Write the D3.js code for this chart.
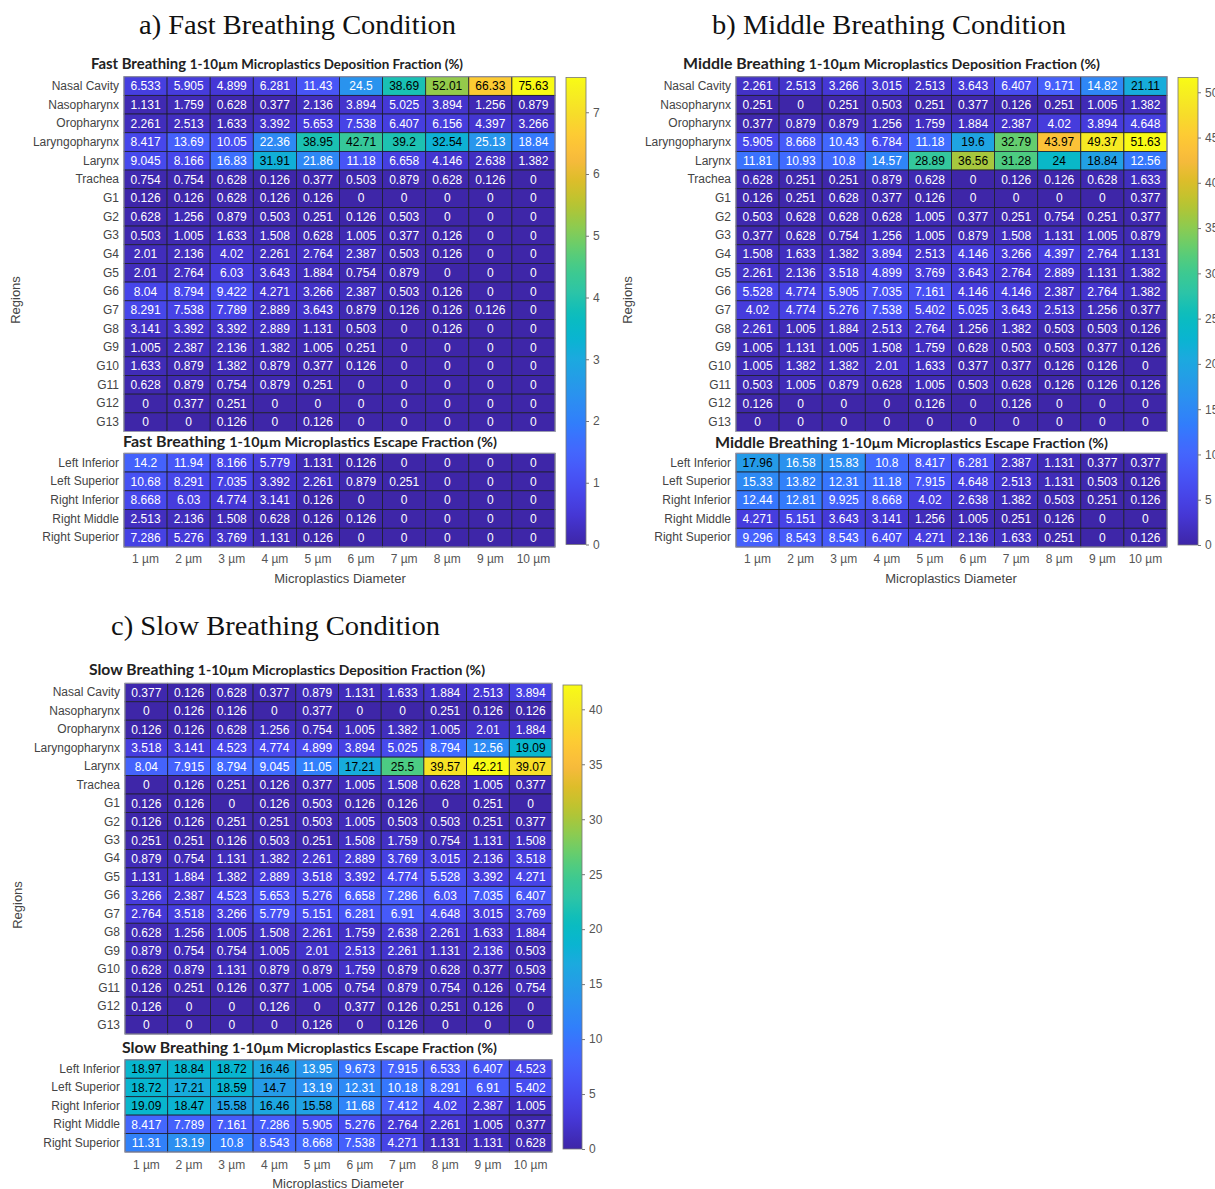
<!DOCTYPE html>
<html>
<head>
<meta charset="utf-8">
<script src="https://cdn.jsdelivr.net/npm/d3@7"></script>
<style>
  body { margin: 0; background: #fff; }
  svg { display: block; }
</style>
</head>
<body>
<svg width="1215" height="1189"></svg>
<script>
var depRegions = ['Nasal Cavity', 'Nasopharynx', 'Oropharynx', 'Laryngopharynx', 'Larynx', 'Trachea',
  'G1', 'G2', 'G3', 'G4', 'G5', 'G6', 'G7', 'G8', 'G9', 'G10', 'G11', 'G12', 'G13']
var escRegions = ['Left Inferior', 'Left Superior', 'Right Inferior', 'Right Middle', 'Right Superior']
var diameters = ['1 µm', '2 µm', '3 µm', '4 µm', '5 µm', '6 µm', '7 µm', '8 µm', '9 µm', '10 µm']

var fastDep = [
  [6.533, 5.905, 4.899, 6.281, 11.43, 24.5, 38.69, 52.01, 66.33, 75.63],
  [1.131, 1.759, 0.628, 0.377, 2.136, 3.894, 5.025, 3.894, 1.256, 0.879],
  [2.261, 2.513, 1.633, 3.392, 5.653, 7.538, 6.407, 6.156, 4.397, 3.266],
  [8.417, 13.69, 10.05, 22.36, 38.95, 42.71, 39.2, 32.54, 25.13, 18.84],
  [9.045, 8.166, 16.83, 31.91, 21.86, 11.18, 6.658, 4.146, 2.638, 1.382],
  [0.754, 0.754, 0.628, 0.126, 0.377, 0.503, 0.879, 0.628, 0.126, 0],
  [0.126, 0.126, 0.628, 0.126, 0.126, 0, 0, 0, 0, 0],
  [0.628, 1.256, 0.879, 0.503, 0.251, 0.126, 0.503, 0, 0, 0],
  [0.503, 1.005, 1.633, 1.508, 0.628, 1.005, 0.377, 0.126, 0, 0],
  [2.01, 2.136, 4.02, 2.261, 2.764, 2.387, 0.503, 0.126, 0, 0],
  [2.01, 2.764, 6.03, 3.643, 1.884, 0.754, 0.879, 0, 0, 0],
  [8.04, 8.794, 9.422, 4.271, 3.266, 2.387, 0.503, 0.126, 0, 0],
  [8.291, 7.538, 7.789, 2.889, 3.643, 0.879, 0.126, 0.126, 0.126, 0],
  [3.141, 3.392, 3.392, 2.889, 1.131, 0.503, 0, 0.126, 0, 0],
  [1.005, 2.387, 2.136, 1.382, 1.005, 0.251, 0, 0, 0, 0],
  [1.633, 0.879, 1.382, 0.879, 0.377, 0.126, 0, 0, 0, 0],
  [0.628, 0.879, 0.754, 0.879, 0.251, 0, 0, 0, 0, 0],
  [0, 0.377, 0.251, 0, 0, 0, 0, 0, 0, 0],
  [0, 0, 0.126, 0, 0.126, 0, 0, 0, 0, 0]
]
var fastEsc = [
  [14.2, 11.94, 8.166, 5.779, 1.131, 0.126, 0, 0, 0, 0],
  [10.68, 8.291, 7.035, 3.392, 2.261, 0.879, 0.251, 0, 0, 0],
  [8.668, 6.03, 4.774, 3.141, 0.126, 0, 0, 0, 0, 0],
  [2.513, 2.136, 1.508, 0.628, 0.126, 0.126, 0, 0, 0, 0],
  [7.286, 5.276, 3.769, 1.131, 0.126, 0, 0, 0, 0, 0]
]

var midDep = [
  [2.261, 2.513, 3.266, 3.015, 2.513, 3.643, 6.407, 9.171, 14.82, 21.11],
  [0.251, 0, 0.251, 0.503, 0.251, 0.377, 0.126, 0.251, 1.005, 1.382],
  [0.377, 0.879, 0.879, 1.256, 1.759, 1.884, 2.387, 4.02, 3.894, 4.648],
  [5.905, 8.668, 10.43, 6.784, 11.18, 19.6, 32.79, 43.97, 49.37, 51.63],
  [11.81, 10.93, 10.8, 14.57, 28.89, 36.56, 31.28, 24, 18.84, 12.56],
  [0.628, 0.251, 0.251, 0.879, 0.628, 0, 0.126, 0.126, 0.628, 1.633],
  [0.126, 0.251, 0.628, 0.377, 0.126, 0, 0, 0, 0, 0.377],
  [0.503, 0.628, 0.628, 0.628, 1.005, 0.377, 0.251, 0.754, 0.251, 0.377],
  [0.377, 0.628, 0.754, 1.256, 1.005, 0.879, 1.508, 1.131, 1.005, 0.879],
  [1.508, 1.633, 1.382, 3.894, 2.513, 4.146, 3.266, 4.397, 2.764, 1.131],
  [2.261, 2.136, 3.518, 4.899, 3.769, 3.643, 2.764, 2.889, 1.131, 1.382],
  [5.528, 4.774, 5.905, 7.035, 7.161, 4.146, 4.146, 2.387, 2.764, 1.382],
  [4.02, 4.774, 5.276, 7.538, 5.402, 5.025, 3.643, 2.513, 1.256, 0.377],
  [2.261, 1.005, 1.884, 2.513, 2.764, 1.256, 1.382, 0.503, 0.503, 0.126],
  [1.005, 1.131, 1.005, 1.508, 1.759, 0.628, 0.503, 0.503, 0.377, 0.126],
  [1.005, 1.382, 1.382, 2.01, 1.633, 0.377, 0.377, 0.126, 0.126, 0],
  [0.503, 1.005, 0.879, 0.628, 1.005, 0.503, 0.628, 0.126, 0.126, 0.126],
  [0.126, 0, 0, 0, 0.126, 0, 0.126, 0, 0, 0],
  [0, 0, 0, 0, 0, 0, 0, 0, 0, 0]
]
var midEsc = [
  [17.96, 16.58, 15.83, 10.8, 8.417, 6.281, 2.387, 1.131, 0.377, 0.377],
  [15.33, 13.82, 12.31, 11.18, 7.915, 4.648, 2.513, 1.131, 0.503, 0.126],
  [12.44, 12.81, 9.925, 8.668, 4.02, 2.638, 1.382, 0.503, 0.251, 0.126],
  [4.271, 5.151, 3.643, 3.141, 1.256, 1.005, 0.251, 0.126, 0, 0],
  [9.296, 8.543, 8.543, 6.407, 4.271, 2.136, 1.633, 0.251, 0, 0.126]
]

var slowDep = [
  [0.377, 0.126, 0.628, 0.377, 0.879, 1.131, 1.633, 1.884, 2.513, 3.894],
  [0, 0.126, 0.126, 0, 0.377, 0, 0, 0.251, 0.126, 0.126],
  [0.126, 0.126, 0.628, 1.256, 0.754, 1.005, 1.382, 1.005, 2.01, 1.884],
  [3.518, 3.141, 4.523, 4.774, 4.899, 3.894, 5.025, 8.794, 12.56, 19.09],
  [8.04, 7.915, 8.794, 9.045, 11.05, 17.21, 25.5, 39.57, 42.21, 39.07],
  [0, 0.126, 0.251, 0.126, 0.377, 1.005, 1.508, 0.628, 1.005, 0.377],
  [0.126, 0.126, 0, 0.126, 0.503, 0.126, 0.126, 0, 0.251, 0],
  [0.126, 0.126, 0.251, 0.251, 0.503, 1.005, 0.503, 0.503, 0.251, 0.377],
  [0.251, 0.251, 0.126, 0.503, 0.251, 1.508, 1.759, 0.754, 1.131, 1.508],
  [0.879, 0.754, 1.131, 1.382, 2.261, 2.889, 3.769, 3.015, 2.136, 3.518],
  [1.131, 1.884, 1.382, 2.889, 3.518, 3.392, 4.774, 5.528, 3.392, 4.271],
  [3.266, 2.387, 4.523, 5.653, 5.276, 6.658, 7.286, 6.03, 7.035, 6.407],
  [2.764, 3.518, 3.266, 5.779, 5.151, 6.281, 6.91, 4.648, 3.015, 3.769],
  [0.628, 1.256, 1.005, 1.508, 2.261, 1.759, 2.638, 2.261, 1.633, 1.884],
  [0.879, 0.754, 0.754, 1.005, 2.01, 2.513, 2.261, 1.131, 2.136, 0.503],
  [0.628, 0.879, 1.131, 0.879, 0.879, 1.759, 0.879, 0.628, 0.377, 0.503],
  [0.126, 0.251, 0.126, 0.377, 1.005, 0.754, 0.879, 0.754, 0.126, 0.754],
  [0.126, 0, 0, 0.126, 0, 0.377, 0.126, 0.251, 0.126, 0],
  [0, 0, 0, 0, 0.126, 0, 0.126, 0, 0, 0]
]
var slowEsc = [
  [18.97, 18.84, 18.72, 16.46, 13.95, 9.673, 7.915, 6.533, 6.407, 4.523],
  [18.72, 17.21, 18.59, 14.7, 13.19, 12.31, 10.18, 8.291, 6.91, 5.402],
  [19.09, 18.47, 15.58, 16.46, 15.58, 11.68, 7.412, 4.02, 2.387, 1.005],
  [8.417, 7.789, 7.161, 7.286, 5.905, 5.276, 2.764, 2.261, 1.005, 0.377],
  [11.31, 13.19, 10.8, 8.543, 8.668, 7.538, 4.271, 1.131, 1.131, 0.628]
]

var fastTicks = [0, 10, 20, 30, 40, 50, 60, 70]
var midTicks = [0, 5, 10, 15, 20, 25, 30, 35, 40, 45, 50]
var slowTicks = [0, 5, 10, 15, 20, 25, 30, 35, 40]

// parula, sampled from the 64-entry map
var parulaPos = [1, 5, 8, 11, 14, 17, 20, 23, 26, 29, 32, 35, 38, 41, 44, 47, 50, 53, 56, 59, 62, 64]
var parulaHex = ['#3e26a8', '#4537d5', '#4747eb', '#4758f8', '#4269fe', '#327cfc', '#2d8cf3', '#259be8',
  '#1ca9df', '#08b5d0', '#0bbdbd', '#2cc4a7', '#3fca8e', '#64cd6f', '#8fcb4e', '#b9c431', '#dcbd29',
  '#f8ba3d', '#fec934', '#f7dc2a', '#f6ef20', '#f9fb15']
var parula = d3.scaleLinear()
  .domain(parulaPos.map((p) => (p - 1) / 63))
  .range(parulaHex)
  .interpolate(d3.interpolateRgb)
  .clamp(true)

var FONT = "'Liberation Sans', Arial, sans-serif"
var svg = d3.select('svg')
var defs = svg.append('defs')

var panels = [
  {
    name: 'Fast', dep: fastDep, esc: fastEsc, ticks: fastTicks,
    title: 'a) Fast Breathing Condition', tx: 139, ty: 34, tlen: 317,
    gx0: 124, gx1: 555, depTop: 76.7, depBot: 431.5, escTop: 453.3, escBot: 547,
    depT: { x: 91, y: 69, len: 372 }, escT: { x: 123, y: 447, len: 374 },
    cb: { x: 566, w: 20, top: 77.5, bot: 544.5, clip: 600 },
    reg: { x: 20, y: 300 }, diam: { x: 340, y: 583 }, tickY: 560
  },
  {
    name: 'Middle', dep: midDep, esc: midEsc, ticks: midTicks,
    title: 'b) Middle Breathing Condition', tx: 712, ty: 34, tlen: 354,
    gx0: 736, gx1: 1167, depTop: 76.7, depBot: 431.5, escTop: 453.3, escBot: 547,
    depT: { x: 683, y: 69, len: 417 }, escT: { x: 715, y: 448, len: 393 },
    cb: { x: 1178, w: 20, top: 77.5, bot: 545, clip: 1215 },
    reg: { x: 632, y: 300 }, diam: { x: 951, y: 583 }, tickY: 560
  },
  {
    name: 'Slow', dep: slowDep, esc: slowEsc, ticks: slowTicks,
    title: 'c) Slow Breathing Condition', tx: 111, ty: 635, tlen: 329,
    gx0: 125, gx1: 552, depTop: 683.3, depBot: 1034, escTop: 1059.8, escBot: 1152,
    depT: { x: 89, y: 675, len: 396 }, escT: { x: 122, y: 1053, len: 375 },
    cb: { x: 563, w: 19, top: 685, bot: 1149, clip: 1215 },
    reg: { x: 22, y: 905 }, diam: { x: 338, y: 1188 }, tickY: 1166
  }
]

function textColor (c) {
  var rgb = d3.rgb(c)
  var lum = (0.299 * rgb.r + 0.587 * rgb.g + 0.114 * rgb.b) / 255
  return lum > 0.5 ? '#000' : '#fff'
}

function drawGrid (g, rows, regions, x, y, color) {
  var cells = []
  rows.forEach((row, i) => row.forEach((v, j) => cells.push({ r: regions[i], c: diameters[j], v: v })))

  var cell = g.append('g').selectAll('g')
    .data(cells)
    .enter()
    .append('g')

  cell.append('rect')
    .attr('x', (d) => x(d.c))
    .attr('y', (d) => y(d.r))
    .attr('width', x.bandwidth())
    .attr('height', y.bandwidth())
    .attr('fill', (d) => color(d.v))
    .attr('stroke', '#1e1e2e')
    .attr('stroke-width', 0.8)

  cell.append('text')
    .attr('x', (d) => x(d.c) + x.bandwidth() / 2)
    .attr('y', (d) => y(d.r) + y.bandwidth() / 2)
    .attr('dy', '0.36em')
    .attr('text-anchor', 'middle')
    .style('font-family', FONT)
    .style('font-size', '12px')
    .attr('fill', (d) => textColor(color(d.v)))
    .text((d) => String(d.v))

  g.append('rect')
    .attr('x', x.range()[0])
    .attr('y', y.range()[0])
    .attr('width', x.range()[1] - x.range()[0])
    .attr('height', y.range()[1] - y.range()[0])
    .attr('fill', 'none')
    .attr('stroke', '#9a9ab0')
    .attr('stroke-width', 1)

  var ax = g.append('g')
    .attr('transform', 'translate(' + x.range()[0] + ',0)')
    .call(d3.axisLeft(y).tickSize(0).tickPadding(5))
  ax.select('.domain').remove()
  ax.selectAll('text')
    .style('font-family', FONT)
    .style('font-size', '12px')
    .attr('fill', '#444')
}

function heatTitle (g, t, name, rest) {
  var txt = g.append('text')
    .attr('x', t.x)
    .attr('y', t.y)
    .attr('textLength', t.len)
    .attr('lengthAdjust', 'spacingAndGlyphs')
    .style('font-family', "Lato, 'Open Sans', sans-serif")
    .style('font-weight', 700)
    .attr('fill', '#222')
  txt.append('tspan').style('font-size', '14.5px').text(name + ' Breathing ')
  txt.append('tspan').style('font-size', '13px').text(rest)
}

panels.forEach((p, k) => {
  var g = svg.append('g')
  var maxV = d3.max(p.dep.concat(p.esc).flat())
  var color = d3.scaleSequential((t) => parula(t)).domain([0, maxV])

  var x = d3.scaleBand().domain(diameters).range([p.gx0, p.gx1])
  var yDep = d3.scaleBand().domain(depRegions).range([p.depTop, p.depBot])
  var yEsc = d3.scaleBand().domain(escRegions).range([p.escTop, p.escBot])

  // panel heading
  g.append('text')
    .attr('x', p.tx)
    .attr('y', p.ty)
    .attr('textLength', p.tlen)
    .attr('lengthAdjust', 'spacingAndGlyphs')
    .style('font-family', "'Liberation Serif', 'Times New Roman', serif")
    .style('font-size', '27px')
    .attr('fill', '#111')
    .text(p.title)

  heatTitle(g, p.depT, p.name, '1-10µm Microplastics Deposition Fraction (%)')
  heatTitle(g, p.escT, p.name, '1-10µm Microplastics Escape Fraction (%)')

  drawGrid(g, p.dep, depRegions, x, yDep, color)
  drawGrid(g, p.esc, escRegions, x, yEsc, color)

  // x tick labels
  var xa = g.append('g')
    .attr('transform', 'translate(0,' + (p.tickY - 6) + ')')
    .call(d3.axisBottom(x).tickSize(0).tickPadding(0))
  xa.select('.domain').remove()
  xa.selectAll('text')
    .style('font-family', FONT)
    .style('font-size', '12px')
    .attr('fill', '#555')

  g.append('text')
    .attr('x', p.diam.x)
    .attr('y', p.diam.y)
    .attr('text-anchor', 'middle')
    .style('font-family', FONT)
    .style('font-size', '13px')
    .attr('fill', '#444')
    .text('Microplastics Diameter')

  g.append('text')
    .attr('transform', 'translate(' + p.reg.x + ',' + p.reg.y + ') rotate(-90)')
    .attr('text-anchor', 'middle')
    .style('font-family', FONT)
    .style('font-size', '13px')
    .attr('fill', '#444')
    .text('Regions')

  // colorbar
  var gid = 'cbgrad' + k
  var grad = defs.append('linearGradient')
    .attr('id', gid)
    .attr('x1', 0).attr('y1', 1).attr('x2', 0).attr('y2', 0)
  d3.range(0, 1.0001, 0.02).forEach((t) => {
    grad.append('stop').attr('offset', t).attr('stop-color', parula(t))
  })

  var cbY = d3.scaleLinear().domain([0, maxV]).range([p.cb.bot, p.cb.top])

  g.append('rect')
    .attr('x', p.cb.x)
    .attr('y', p.cb.top)
    .attr('width', p.cb.w)
    .attr('height', p.cb.bot - p.cb.top)
    .attr('fill', 'url(#' + gid + ')')
    .attr('stroke', '#777')
    .attr('stroke-width', 0.8)

  var cid = 'cbclip' + k
  defs.append('clipPath').attr('id', cid)
    .append('rect')
    .attr('x', p.cb.x - 5)
    .attr('y', p.cb.top - 20)
    .attr('width', p.cb.clip - p.cb.x + 5)
    .attr('height', p.cb.bot - p.cb.top + 40)

  var ca = g.append('g')
    .attr('clip-path', 'url(#' + cid + ')')
    .append('g')
    .attr('transform', 'translate(' + (p.cb.x + p.cb.w) + ',0)')
    .call(d3.axisRight(cbY).tickValues(p.ticks).tickSize(3).tickPadding(4))
  ca.select('.domain').remove()
  ca.selectAll('line').attr('stroke', '#777')
  ca.selectAll('text')
    .style('font-family', FONT)
    .style('font-size', '12px')
    .attr('fill', '#555')
})
</script>
</body>
</html>
